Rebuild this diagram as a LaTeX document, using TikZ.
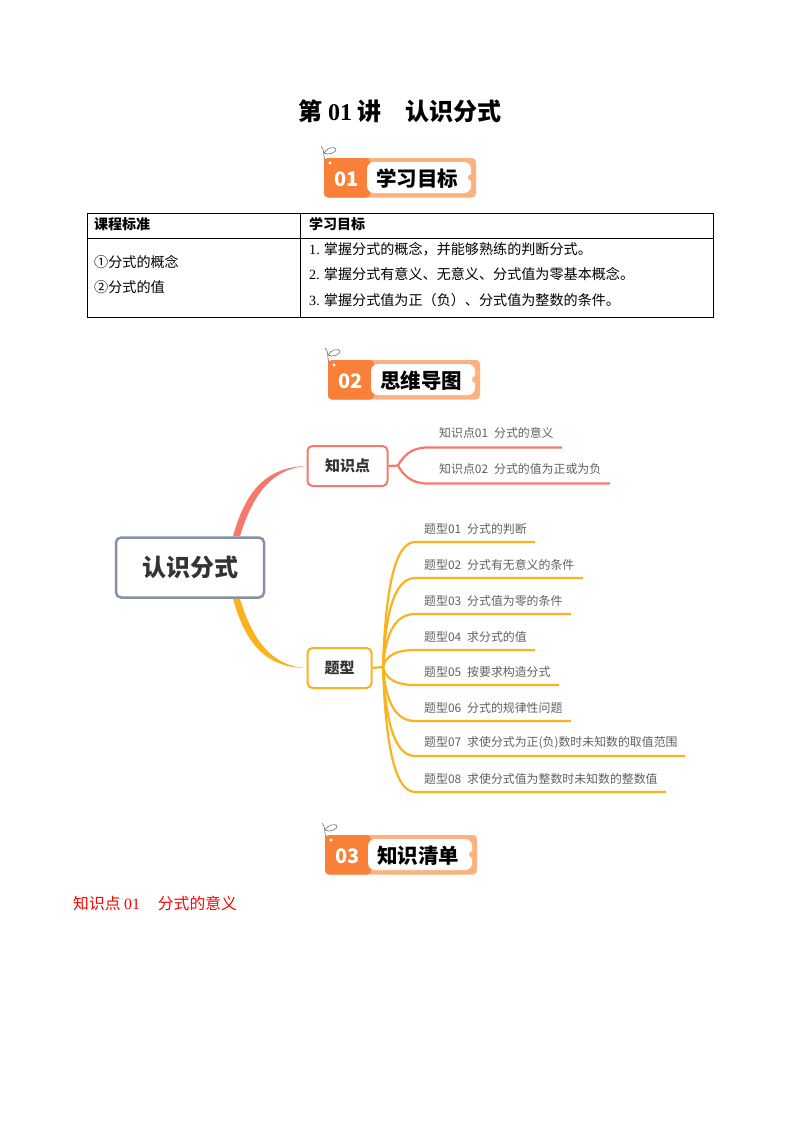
\documentclass[tikz,border=0pt]{standalone}
\usepackage{fontspec}
\setmainfont{Liberation Serif}
\newfontfamily\cjk{Noto Sans CJK SC}
\usepackage{xcolor}
\usepackage{tikz}
\usetikzlibrary{calc,positioning}
\definecolor{bandark}{HTML}{F98038}
\definecolor{banlight}{HTML}{FDB27E}
\definecolor{salmon}{HTML}{F4796B}
\definecolor{gold}{HTML}{FAB31E}
\definecolor{slate}{HTML}{8591A8}
\definecolor{inkgray}{HTML}{333333}
\definecolor{leafgray}{HTML}{606060}

\begin{document}
\begin{tikzpicture}[x=1pt,y=-1pt,
      title/.style={font=\cjk\bfseries\fontsize{24}{28}\selectfont},
      cell/.style={anchor=west,inner sep=0pt,font=\cjk\fontsize{14.1}{17}\selectfont},
      headcell/.style={cell,font=\cjk\bfseries\fontsize{14}{17}\selectfont},
      bannum/.style={inner sep=0pt,text=white,font=\cjk\bfseries\fontsize{20}{24}\selectfont},
      bantext/.style={inner sep=0pt,text=black,font=\cjk\bfseries\fontsize{20.5}{24}\selectfont},
      root/.style={draw=slate,line width=2.5pt,rounded corners=5pt,minimum width=148pt,minimum height=60pt,
        text=inkgray,font=\cjk\bfseries\fontsize{24}{28}\selectfont},
      topic/.style={line width=2pt,rounded corners=5pt,minimum height=40pt,
        text=inkgray,font=\cjk\bfseries\fontsize{15}{18}\selectfont},
      leaf/.style={anchor=west,inner sep=0pt,text=leafgray,font=\cjk\fontsize{11.9}{14}\selectfont},
      redline/.style={draw=salmon,line width=2.2pt},
      goldline/.style={draw=gold,line width=2.2pt}]
    \useasboundingbox (0,0) rectangle (800,1132);
    \node[title] (head) at (400,111) {第 {\rmfamily 01} 讲\hspace{24pt}认识分式};

    % section banners
    \foreach \nm/\bx/\by/\txt in {01/324/158/学习目标,02/328/360/思维导图,03/325/835/知识清单}{
      \begin{scope}[shift={(\bx,\by)}]
        \fill[banlight,rounded corners=4pt] (0,0) rectangle (152,39.5);
        \fill[bandark,rounded corners=4pt] (0,0) rectangle (46,39.5);
        \fill[white,rounded corners=7pt] (43,4) rectangle (147,35);
        \fill[banlight] (147.5,19.5) circle (3.5);
        \fill[white] (6,5) circle (1.6);
        \draw[black!65,line width=0.5pt] (-3,-12) .. controls (1,-8) and (-1,-2) .. (1,3);
        \draw[black!65,line width=0.5pt] (0,-5) .. controls (4,-2) and (13,-6) .. (12,-9)
          .. controls (11,-12) and (2,-10) .. (0,-5);
        \node[bannum] (num\nm) at (22.5,21.5) {\nm};
        \node[bantext] (ban\nm) [right = 29.5pt of num\nm.center, yshift=1pt] {\txt};
      \end{scope}
    }

    % table
    \node[draw,line width=0.8pt,minimum width=626pt,minimum height=104pt,inner sep=0pt] (tab) at (400,265) {};
    \draw[line width=0.8pt] (tab.west |- 0,238) -- (tab.east |- 0,238);
    \draw[line width=0.8pt] (300,0 |- tab.north) -- (300,0 |- tab.south);
    \node[headcell] (std) at (94,224) {课程标准};
    \node[headcell] (aim) at (309,224) {学习目标};
    \node[cell] (std1) at (94,262) {①分式的概念};
    \node[cell] (std2) at (94,287) {②分式的值};
    \node[cell] (aim1) at (309,249) {{\rmfamily 1.} 掌握分式的概念，并能够熟练的判断分式。};
    \node[cell] (aim2) at (309,274) {{\rmfamily 2.} 掌握分式有意义、无意义、分式值为零基本概念。};
    \node[cell] (aim3) at (309,300) {{\rmfamily 3.} 掌握分式值为正（负）、分式值为整数的条件。};

    % mind map
    \node[root] (map) at (190,567.5) {认识分式};
    \node[topic,draw=salmon,minimum width=80pt] (kp) at (347.5,466) {知识点};
    \node[topic,draw=gold,minimum width=64pt] (tx) at (339.5,668) {题型};
    \fill[salmon] ($(map.north)+(43,0)$) .. controls (244,497) and (262,467) .. (kp.west)
      .. controls (270,469) and (252,497) .. ($(map.north)+(50,0)$) -- cycle;
    \fill[gold] ($(map.south)+(43,0)$) .. controls (244,638) and (262,668) .. (tx.west)
      .. controls (270,666) and (252,638) .. ($(map.south)+(50,0)$) -- cycle;

    \coordinate (kphub) at (398,465.5);
    \draw[redline] (kp.east) -- (kphub);
    \foreach \n/\ly/\lx/\txt in {1/447.5/562/知识点01\hspace{6pt}分式的意义,2/483.5/610/知识点02\hspace{6pt}分式的值为正或为负}{
      \coordinate (kpend\n) at (\lx,\ly);
      \draw[redline] (kphub) .. controls (403,{(465.5+\ly)/2}) and (411,\ly) .. (427,\ly) -- (kpend\n);
      \node[leaf] (kpleaf\n) at (439,\ly-14.5) {\txt};
    }

    \coordinate (txhub) at (383,667);
    \draw[goldline] (tx.east) -- (txhub);
    \foreach \n/\ly/\lx/\txt in {1/542/535/分式的判断,2/578/583/分式有无意义的条件,3/614/571/分式值为零的条件,
        4/650/535/求分式的值,5/685/559/按要求构造分式,6/721/571/分式的规律性问题,
        7/756/685/求使分式为正(负)数时未知数的取值范围,8/792/666/求使分式值为整数时未知数的整数值}{
      \coordinate (txend\n) at (\lx,\ly);
      \draw[goldline] (txhub) .. controls (385,{(667+\ly)/2}) and (392,\ly) .. (415,\ly) -- (txend\n);
      \node[leaf] (txleaf\n) at (424,\ly-13.5) {题型0\n\hspace{6pt}\txt};
    }

    \node[anchor=west,inner sep=0pt,text=red,font=\cjk\fontsize{15.8}{19}\selectfont] (sect) at (73,903)
      {知识点 {\rmfamily 01}\hspace{18pt}分式的意义};
\end{tikzpicture}
\end{document}
